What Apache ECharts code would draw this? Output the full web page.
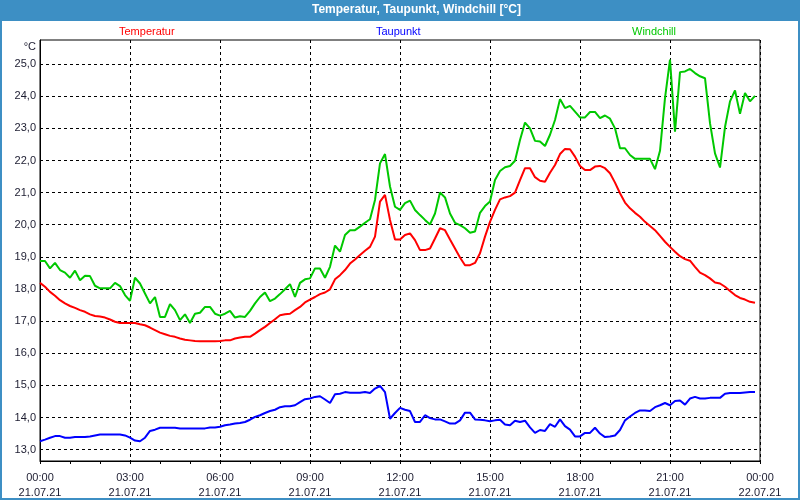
<!DOCTYPE html>
<html>
<head>
<meta charset="utf-8">
<title>Temperatur, Taupunkt, Windchill</title>
<script src="https://cdn.jsdelivr.net/npm/echarts@6/dist/echarts.min.js"></script>
<style>
    html, body {
        margin: 0;
        padding: 0;
        background: #ffffff;
    }

    #myChart {
        width: 800px;
        height: 500px;
    }
</style>
</head>
<body>
<div id="myChart"></div>
<script>
    // Messwerte alle 10 Minuten, 21.07.21 00:00 bis 23:50
    const stepMinutes = 10;

    const temperatur = [
        18.19, 18.07, 17.91, 17.79, 17.65, 17.55, 17.47, 17.41, 17.34, 17.29,
        17.21, 17.16, 17.14, 17.11, 17.05, 16.98, 16.94, 16.94, 16.94, 16.94,
        16.90, 16.87, 16.80, 16.72, 16.64, 16.59, 16.54, 16.51, 16.46, 16.42,
        16.40, 16.38, 16.37, 16.37, 16.37, 16.37, 16.38, 16.40, 16.40, 16.46,
        16.49, 16.51, 16.51, 16.61, 16.72, 16.82, 16.94, 17.06, 17.18, 17.21,
        17.23, 17.34, 17.44, 17.58, 17.67, 17.75, 17.84, 17.89, 17.99, 18.30,
        18.43, 18.59, 18.79, 18.92, 19.06, 19.19, 19.31, 19.63, 20.72, 20.93,
        20.15, 19.54,
        19.54, 19.68, 19.73, 19.52, 19.21, 19.21, 19.26, 19.57, 19.89, 19.83,
        19.54, 19.26, 18.98, 18.74, 18.74, 18.81, 19.11, 19.63, 20.09, 20.46,
        20.79, 20.85, 20.89, 21.00, 21.39, 21.76, 21.76, 21.48, 21.37, 21.34,
        21.62, 21.86, 22.20, 22.36, 22.35, 22.12, 21.83, 21.70, 21.70, 21.81,
        21.83, 21.76, 21.60, 21.31, 20.98, 20.69, 20.51, 20.37, 20.25, 20.09,
        19.96, 19.83, 19.65, 19.47, 19.31, 19.16, 19.02, 18.93, 18.88, 18.69,
        18.51, 18.43, 18.33, 18.20, 18.17, 18.07, 17.94, 17.81, 17.72, 17.67,
        17.60, 17.57
    ];

    const taupunkt = [
        13.26, 13.31, 13.37, 13.42, 13.42, 13.37, 13.37, 13.39, 13.39, 13.39,
        13.41, 13.44, 13.47, 13.47, 13.47, 13.47, 13.47, 13.44, 13.37, 13.28,
        13.26, 13.37, 13.58, 13.62, 13.68, 13.68, 13.68, 13.68, 13.66, 13.66,
        13.66, 13.66, 13.66, 13.66, 13.69, 13.69, 13.71, 13.76, 13.78, 13.81,
        13.83, 13.86, 13.93, 14.02, 14.07, 14.14, 14.20, 14.24, 14.32, 14.35,
        14.35, 14.38, 14.48, 14.57, 14.59, 14.64, 14.66, 14.56, 14.45, 14.72,
        14.74, 14.79, 14.77, 14.77, 14.77, 14.79, 14.76, 14.90, 14.98, 14.79,
        13.96, 14.14,
        14.30, 14.24, 14.20, 13.86, 13.86, 14.07, 13.98, 13.94, 13.94, 13.88,
        13.81, 13.81, 13.91, 14.15, 14.15, 13.94, 13.93, 13.91, 13.88, 13.91,
        13.93, 13.78, 13.76, 13.90, 13.86, 13.90, 13.69, 13.52, 13.61, 13.58,
        13.79, 13.71, 13.94, 13.73, 13.62, 13.41, 13.41, 13.52, 13.52, 13.68,
        13.50, 13.39, 13.41, 13.44, 13.61, 13.91, 14.03, 14.14, 14.22, 14.22,
        14.20, 14.32, 14.38, 14.45, 14.38, 14.51, 14.53, 14.40, 14.59, 14.64,
        14.59, 14.59, 14.61, 14.61, 14.61, 14.74, 14.76, 14.76, 14.76, 14.78,
        14.79, 14.79
    ];

    const windchill = [
        18.87, 18.87, 18.64, 18.81, 18.59, 18.51, 18.35, 18.57, 18.27, 18.41,
        18.40, 18.10, 18.02, 18.02, 18.02, 18.19, 18.09, 17.81, 17.63, 18.35,
        18.17, 17.86, 17.55, 17.75, 17.13, 17.13, 17.53, 17.34, 17.03, 17.21,
        16.94, 17.23, 17.26, 17.44, 17.44, 17.23, 17.17, 17.23, 17.32, 17.11,
        17.15, 17.13, 17.32, 17.55, 17.75, 17.89, 17.62, 17.70, 17.84, 17.99,
        18.15, 17.75, 18.19, 18.30, 18.33, 18.64, 18.64, 18.35, 18.69, 19.35,
        19.16, 19.68, 19.83, 19.83, 19.94, 20.06, 20.17, 20.77, 21.91, 22.20,
        21.19, 20.56,
        20.46, 20.67, 20.75, 20.46, 20.30, 20.15, 20.01, 20.35, 21.00, 20.85,
        20.35, 20.06, 19.99, 19.89, 19.75, 19.79, 20.37, 20.58, 20.72, 21.39,
        21.67, 21.79, 21.83, 21.99, 22.64, 23.18, 23.00, 22.61, 22.59, 22.45,
        22.80, 23.26, 23.91, 23.63, 23.70, 23.52, 23.34, 23.34, 23.51, 23.51,
        23.32, 23.40, 23.30, 23.00, 22.38, 22.38, 22.17, 22.05, 22.05, 22.05,
        22.05, 21.73, 22.30, 23.94, 25.14, 22.90, 24.75, 24.77, 24.85, 24.72,
        24.62, 24.56, 23.16, 22.22, 21.78, 23.04, 23.84, 24.18, 23.45, 24.10,
        23.84, 24.01
    ];

    const xLabels = [
        '00:00\n21.07.21', '03:00\n21.07.21', '06:00\n21.07.21',
        '09:00\n21.07.21', '12:00\n21.07.21', '15:00\n21.07.21',
        '18:00\n21.07.21', '21:00\n21.07.21', '00:00\n22.07.21'
    ];
    const yTicks = [13, 14, 15, 16, 17, 18, 19, 20, 21, 22, 23, 24, 25];

    const seriesNames = ['Temperatur', 'Taupunkt', 'Windchill'];
    const seriesColors = ['#ff0000', '#0000ff', '#00c800'];
    const legendLeft = [114, 371, 627];

    const blue = '#3d8fc4';
    const font = 'Liberation Sans';

    // Stunden seit 00:00 fuer jeden Messwert
    function toPairs(list) {
        let out = [];
        for (let i = 0; i < list.length; i++) {
            out.push([i * stepMinutes / 60, list[i]]);
        }
        return out;
    }

    let myChart = echarts.init(document.getElementById('myChart'));

    let legends = [];
    for (let i = 0; i < seriesNames.length; i++) {
        legends.push({
            left: legendLeft[i],
            top: 26,
            icon: 'none',
            itemWidth: 0,
            itemHeight: 0,
            padding: 0,
            selectedMode: false,
            data: [{
                name: seriesNames[i],
                textStyle: { color: seriesColors[i] }
            }],
            textStyle: { fontFamily: font, fontSize: 11 }
        });
    }

    let allData = [temperatur, taupunkt, windchill];
    let series = [];
    for (let i = 0; i < seriesNames.length; i++) {
        series.push({
            name: seriesNames[i],
            type: 'line',
            data: toPairs(allData[i]),
            showSymbol: false,
            symbol: 'none',
            animation: false,
            lineStyle: { color: seriesColors[i], width: 2 },
            itemStyle: { color: seriesColors[i] }
        });
    }

    let option = {
        backgroundColor: '#ffffff',
        animation: false,
        title: {
            text: 'Temperatur, Taupunkt, Windchill [°C]',
            left: 312,
            top: 4,
            padding: 0,
            textStyle: {
                color: '#ffffff',
                fontFamily: font,
                fontSize: 12,
                fontWeight: 'bold'
            }
        },
        graphic: [
            {
                type: 'rect',
                z: -1,
                shape: { x: 0, y: 0, width: 800, height: 21 },
                style: { fill: blue }
            },
            {
                type: 'rect',
                z: -1,
                shape: { x: 1, y: 1, width: 798, height: 498 },
                style: { fill: 'none', stroke: blue, lineWidth: 2 }
            }
        ],
        legend: legends,
        grid: {
            left: 40,
            right: 40,
            top: 40,
            bottom: 39,
            show: true,
            backgroundColor: '#ffffff',
            borderColor: '#000000',
            borderWidth: 1
        },
        xAxis: {
            type: 'value',
            min: 0,
            max: 24,
            interval: 3,
            axisLine: { lineStyle: { color: '#000000', width: 1 } },
            axisTick: { show: true, length: 3, lineStyle: { color: '#000000' } },
            minorTick: { show: true, splitNumber: 3, length: 3, lineStyle: { color: '#000000' } },
            axisLabel: {
                margin: 9,
                color: '#1c1c30',
                fontFamily: font,
                fontSize: 11,
                lineHeight: 15,
                formatter: function (v) {
                    return xLabels[Math.round(v / 3)];
                }
            },
            splitLine: {
                show: true,
                lineStyle: { color: '#000000', type: [3, 3], width: 1 }
            }
        },
        yAxis: {
            type: 'value',
            min: 12.645,
            max: 25.75,
            name: '°C',
            nameLocation: 'end',
            nameGap: -7,
            nameTextStyle: {
                color: '#1c1c30',
                fontFamily: font,
                fontSize: 11,
                align: 'right',
                verticalAlign: 'middle',
                padding: [0, 4, 0, 0]
            },
            axisLine: { show: true, lineStyle: { color: '#000000', width: 1 } },
            axisTick: { show: false, customValues: yTicks },
            axisLabel: {
                customValues: yTicks,
                margin: 4,
                color: '#1c1c30',
                fontFamily: font,
                fontSize: 11,
                formatter: function (v) {
                    return v.toFixed(1).replace('.', ',');
                }
            },
            splitLine: {
                show: true,
                lineStyle: { color: '#000000', type: [3, 3], width: 1 }
            }
        },
        series: series
    };
    myChart.setOption(option);
</script>
</body>
</html>
